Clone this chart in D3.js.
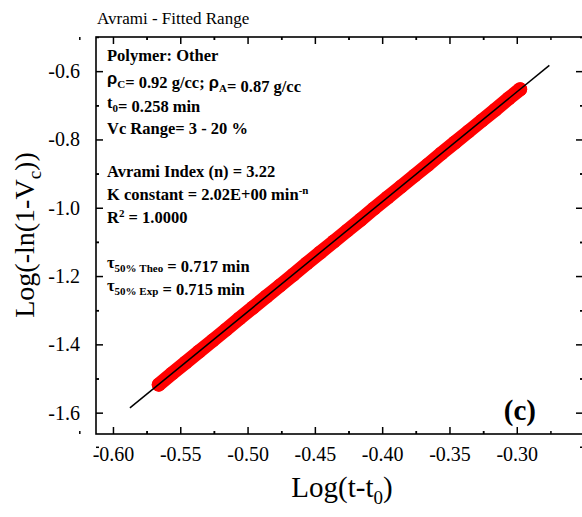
<!DOCTYPE html>
<html>
<head>
<meta charset="utf-8">
<script src="https://cdn.jsdelivr.net/npm/d3@7"></script>
<style>
  body { margin: 0; background: #fff; }
  text { font-family: "Liberation Serif", "Times New Roman", serif; }
</style>
</head>
<body>
<div class="chart"></div>
<script>
// Avrami plot

// experimental points (Vc 3 - 20 %)
const logTime = [-0.566, -0.556, -0.546, -0.536, -0.526, -0.516, -0.506, -0.496, -0.486, -0.476,
  -0.466, -0.456, -0.446, -0.436, -0.426, -0.416, -0.406, -0.396, -0.386, -0.376,
  -0.366, -0.356, -0.346, -0.336, -0.326, -0.316, -0.306, -0.2975];
const logVc = [-1.518, -1.485, -1.453, -1.421, -1.389, -1.357, -1.324, -1.292, -1.260, -1.228,
  -1.196, -1.163, -1.131, -1.099, -1.067, -1.035, -1.002, -0.970, -0.938, -0.906,
  -0.874, -0.841, -0.809, -0.777, -0.745, -0.713, -0.680, -0.653];

// fitted line end points
const fitX = [-0.5874, -0.2758];
const fitY = [-1.586, -0.583];

// ticks
const xTicks = [-0.60, -0.55, -0.50, -0.45, -0.40, -0.35, -0.30];
const yTicks = [-1.6, -1.4, -1.2, -1.0, -0.8, -0.6];

const W = 582, H = 517;
const margin = { top: 37, right: -1, bottom: 83, left: 96 },
  width = W - margin.left - margin.right,
  height = H - margin.top - margin.bottom;

const svg = d3.select(".chart")
  .append("svg")
  .attr("width", W)
  .attr("height", H);

const g = svg.append("g")
  .attr("transform", "translate(" + margin.left + "," + margin.top + ")");

const x = d3.scaleLinear().domain([-0.6126, -0.2508]).range([0, width]);
const y = d3.scaleLinear().domain([-1.6625, -0.5]).range([height, 0]);

drawAxes();
drawData();
drawNotes();
drawTitles();

function minorOf(ticks, step) {
  const out = [];
  ticks.forEach(function (t) { out.push(t - step, t + step); });
  return out;
}

function drawAxes() {
  const xMinor = minorOf(xTicks, 0.025);
  const yMinor = minorOf(yTicks, 0.1);

  // bottom
  g.append("g")
    .attr("transform", "translate(0," + height + ")")
    .call(d3.axisBottom(x).tickValues(xTicks).tickFormat(function (d) { return d.toFixed(2); })
      .tickSizeInner(-7).tickSizeOuter(0).tickPadding(13))
    .call(styleAxis);
  g.append("g")
    .attr("transform", "translate(0," + height + ")")
    .call(d3.axisBottom(x).tickValues(xMinor).tickFormat("").tickSizeInner(-3).tickSizeOuter(0))
    .call(styleAxis);
  // top
  g.append("g")
    .call(d3.axisTop(x).tickValues(xTicks).tickFormat("").tickSizeInner(-7).tickSizeOuter(0))
    .call(styleAxis);
  g.append("g")
    .call(d3.axisTop(x).tickValues(xMinor).tickFormat("").tickSizeInner(-3).tickSizeOuter(0))
    .call(styleAxis);
  // left
  g.append("g")
    .call(d3.axisLeft(y).tickValues(yTicks).tickFormat(function (d) { return d.toFixed(1); })
      .tickSizeInner(-7).tickSizeOuter(0).tickPadding(16))
    .call(styleAxis);
  g.append("g")
    .call(d3.axisLeft(y).tickValues(yMinor).tickFormat("").tickSizeInner(-3).tickSizeOuter(0))
    .call(styleAxis);
  // right
  g.append("g")
    .attr("transform", "translate(" + width + ",0)")
    .call(d3.axisRight(y).tickValues(yTicks).tickFormat("").tickSizeInner(-7).tickSizeOuter(0))
    .call(styleAxis);
  g.append("g")
    .attr("transform", "translate(" + width + ",0)")
    .call(d3.axisRight(y).tickValues(yMinor).tickFormat("").tickSizeInner(-3).tickSizeOuter(0))
    .call(styleAxis);

  g.append("rect")
    .attr("width", width)
    .attr("height", height)
    .attr("fill", "none")
    .attr("stroke", "#000")
    .attr("stroke-width", 1.6);
}

function styleAxis(sel) {
  sel.select(".domain").remove();
  sel.selectAll("line").attr("stroke", "#000").attr("stroke-width", 1.5);
  sel.selectAll("text")
    .attr("fill", "#000")
    .style("font-family", "'Liberation Serif', serif")
    .style("font-size", "20px");
}

function drawData() {
  const pts = logTime.map(function (d, i) { return [d, logVc[i]]; });

  g.append("path")
    .datum(pts)
    .attr("fill", "none")
    .attr("stroke", "#ff0000")
    .attr("stroke-width", 14)
    .attr("stroke-linecap", "round")
    .attr("d", d3.line().x(function (d) { return x(d[0]); }).y(function (d) { return y(d[1]); }));

  g.selectAll(".pt")
    .data(pts)
    .enter()
    .append("circle")
    .attr("class", "pt")
    .attr("cx", function (d) { return x(d[0]); })
    .attr("cy", function (d) { return y(d[1]); })
    .attr("r", 7)
    .attr("fill", "#ff0000");

  g.append("line")
    .attr("x1", x(fitX[0])).attr("y1", y(fitY[0]))
    .attr("x2", x(fitX[1])).attr("y2", y(fitY[1]))
    .attr("stroke", "#000")
    .attr("stroke-width", 1.5);
}

function drawNotes() {
  const notes = svg.append("g")
    .style("font-weight", "bold")
    .style("font-size", "16.5px");
  const tx = 107;

  function line(yy) {
    return notes.append("text").attr("x", tx).attr("y", yy);
  }
  function sub(t, s, size) {
    t.append("tspan").attr("dy", 4).style("font-size", (size || 11) + "px").text(s);
    t.append("tspan").attr("dy", -4).text("");
  }

  line(61).text("Polymer: Other");

  let t = line(84);
  t.append("tspan").style("font-family", "'Liberation Sans', sans-serif").text("ρ");
  sub(t, "C");
  t.append("tspan").text("= 0.92 g/cc; ");
  t.append("tspan").style("font-family", "'Liberation Sans', sans-serif").text("ρ");
  sub(t, "A");
  t.append("tspan").text("= 0.87 g/cc");

  t = line(108);
  t.append("tspan").text("t");
  sub(t, "0");
  t.append("tspan").text("= 0.258 min");

  line(134).text("Vc Range= 3 - 20 %");
  line(177).text("Avrami Index (n) = 3.22");

  t = line(200);
  t.append("tspan").text("K constant = 2.02E+00 min");
  t.append("tspan").attr("dy", -6).style("font-size", "11px").text("-n");

  t = line(223);
  t.append("tspan").text("R");
  t.append("tspan").attr("dy", -6).style("font-size", "11px").text("2");
  t.append("tspan").attr("dy", 6).text(" = 1.0000");

  t = line(268);
  t.append("tspan").text("τ");
  sub(t, "50% Theo");
  t.append("tspan").text(" = 0.717 min");

  t = line(291);
  t.append("tspan").text("τ");
  sub(t, "50% Exp");
  t.append("tspan").text(" = 0.715 min");

  svg.append("text")
    .attr("x", 536)
    .attr("y", 420)
    .attr("text-anchor", "end")
    .style("font-weight", "bold")
    .style("font-size", "29px")
    .text("(c)");
}

function drawTitles() {
  svg.append("text")
    .attr("x", 97)
    .attr("y", 24)
    .style("font-size", "17px")
    .text("Avrami - Fitted Range");

  const xl = svg.append("text")
    .attr("x", 342)
    .attr("y", 497)
    .attr("text-anchor", "middle")
    .style("font-size", "29px");
  xl.append("tspan").text("Log(t-t");
  xl.append("tspan").attr("dy", 7).style("font-size", "19px").text("0");
  xl.append("tspan").attr("dy", -7).text(")");

  const yl = svg.append("text")
    .attr("transform", "translate(34,235) rotate(-90)")
    .attr("text-anchor", "middle")
    .style("font-size", "28px");
  yl.append("tspan").text("Log(-ln(1-V");
  yl.append("tspan").attr("dy", 7).style("font-size", "19px").text("c");
  yl.append("tspan").attr("dy", -7).text("))");
}
</script>
</body>
</html>
